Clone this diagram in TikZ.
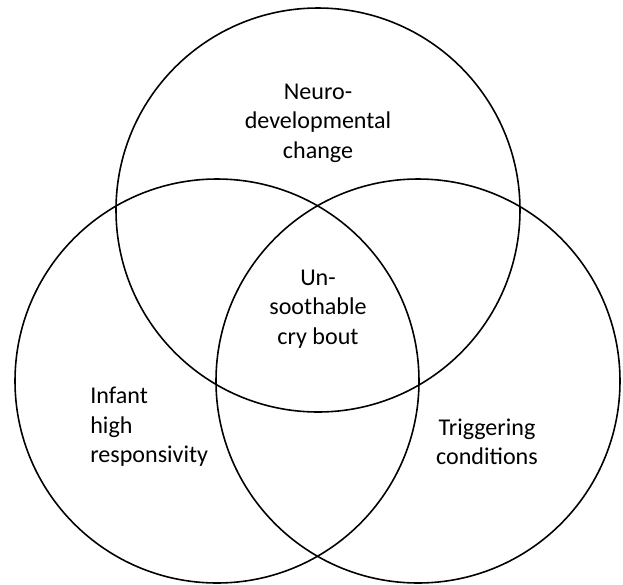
\documentclass[tikz,border=0pt]{standalone}
\usepackage{fontspec}
\setmainfont{Carlito}
\usepackage{tikz}

\begin{document}
\begin{tikzpicture}[every node/.style={font=\fontsize{13.7}{16.8}\selectfont, inner sep=0pt}]
	\useasboundingbox (0,0) rectangle (12.46,-11.68);
	% the three sets
	\draw[line width=0.9pt] (6.36,-4.20) circle (4.04);
	\draw[line width=0.9pt] (4.34,-7.62) circle (4.04);
	\draw[line width=0.9pt] (8.36,-7.62) circle (4.04);
	% labels
	\node[align=center] (neuro) at (6.36,-2.46) {Neuro-\\developmental\\change};
	\node[align=center] (cry) at (6.36,-6.18) {Un-\\soothable\\cry bout};
	\node[align=left, anchor=west] (infant) at (1.80,-8.54) {Infant\\high\\responsivity};
	\node[align=center] (trigger) at (9.74,-8.84) {Triggering\\conditions};
\end{tikzpicture}
\end{document}
